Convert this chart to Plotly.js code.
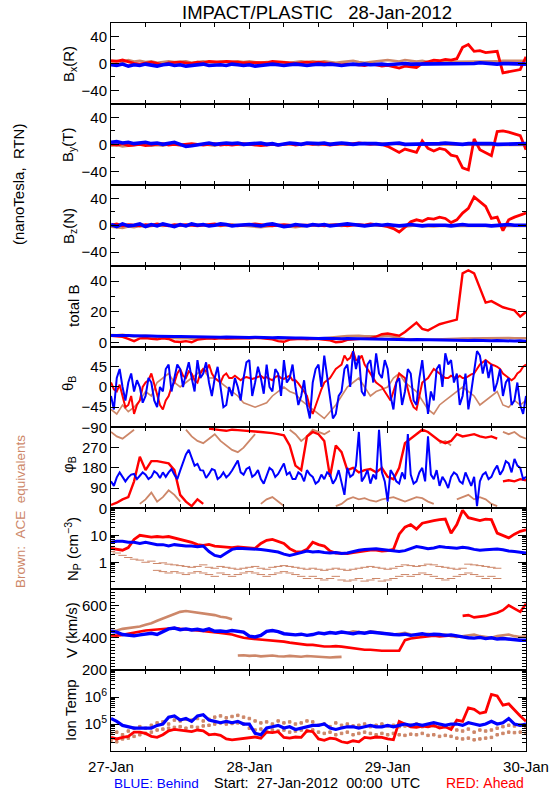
<!DOCTYPE html>
<html><head><meta charset="utf-8">
<script src="https://cdn.plot.ly/plotly-3.0.1.min.js"></script>
<style>body{margin:0;background:#fff}#chart{width:550px;height:800px}</style>
</head><body><div id="chart"></div>
<script>
// ---- data: hourly samples, 27-Jan-2012 00:00 .. 30-Jan-2012 00:00 ----
const hours = Array.from({length: 73}, (_, i) => i);

const bxBlue = [-2,-3,-1,-4,-2,-3,-1,-2,-4,-2,-1,-3, -2,-4,-3,-2,-1,-3,-2,-2,-3,-1,-2,-3, -2,-4,-3,-2,-1,-2,-3,-2,-1,-2,-3,-2, -1,-2,-1,-2,-3,-2,-1,-2,-1,-2,-1,-1, -2,-1,-1,0,-1,-1,0,-1,-1,0,0,-1, 0,-1,0,0,1,0,0,-1,0,0,-1,0, -1];
const bxRed = [4,3,5,2,0,-1,1,2,0,-2,1,2, 2,1,0,2,1,3,2,2,3,3,2,1, 1,2,2,1,3,2,2,1,0,1,2,1, 2,1,0,-1,-2,-1,-1,-2,-3,-1,-2,-4, -3,-5,-7,-4,-5,-6,0,3,5,4,6,5, 7,24,28,18,19,16,17,18,-14,-12,-11,-9, 10];
const bxBrown = [3,4,2,5,3,4,2,3,1,2,3,2, 2,3,1,2,3,2,1,3,2,2,3,2, 3,2,1,2,2,3,2,1,2,3,2,3, 2,3,2,1,2,3,4,2,1,2,3,4, 5,4,3,5,4,3,4,2,2,2,3,2, 3,3,3,3,3,3,3,3,4,4,4,4, 4];

const byBlue = [3,4,2,3,1,2,3,1,2,0,2,3, 0,-3,-2,-1,1,2,0,1,2,1,2,0, 1,2,2,0,1,-1,1,2,1,0,2,1, 1,2,0,1,2,1,0,1,1,2,1,0, 1,1,2,0,0,1,1,0,0,1,2,1, 1,0,1,1,2,1,1,0,0,1,1,1, 1];
const byRed = [0,-1,1,-2,-1,0,-2,-1,0,1,-1,0, -1,0,1,0,-1,0,1,-1,0,-1,0,1, 0,-1,-2,-1,0,-1,0,1,-1,0,1,0, 1,0,-1,0,1,0,1,2,1,0,1,0, -3,-8,-12,-7,-10,-12,5,-6,-10,-6,-8,-16, -18,-35,-38,8,-8,-12,-17,19,20,18,16,13, -8];
const byBrown = [-2,-1,-3,-2,-1,0,-1,-2,-1,-2,0,-1, -1,0,-2,-1,0,-1,-2,0,-1,0,-1,-1, 0,-1,0,1,0,-1,0,0,-1,0,1,0, -1,0,1,0,0,-1,0,1,2,1,0,1, 0,1,0,-1,0,0,-1,0,-1,-1,-1,-1, -1,-1,-1,-1,-1,-1,-1,-1,-1,-1,-1,-1, -1];

const bzBlue = [1,-2,2,-1,0,2,-2,1,-1,2,0,-2, 1,-1,2,0,1,-1,0,2,1,-1,0,1, 1,0,-1,1,2,0,-2,-1,1,0,-1,1, 0,1,-1,0,1,2,1,0,-1,0,1,0, 1,0,-1,0,1,0,-1,0,0,1,0,-1, 0,1,0,0,1,0,-1,0,0,1,0,0, 0];
const bzRed = [0,2,-1,1,0,-1,1,0,2,0,-1,1, 0,1,0,-1,0,1,2,0,1,0,-1,0, 1,2,1,0,-1,0,1,0,-1,0,0,1, 0,-1,0,1,0,-1,0,1,0,2,1,0, -2,-5,-10,-3,5,8,6,10,9,12,10,4, 8,18,25,42,35,28,10,12,-8,8,12,15, 18];
const bzBrown = [-2,-3,-4,-2,-3,-1,-2,-1,0,-1,0,-1, 0,-1,0,1,0,-1,0,-1,0,1,0,-1, -1,-2,-3,-2,-1,0,-1,-2,-3,-2,-1,0, -1,0,1,0,-1,0,1,0,-1,0,0,-1, -1,0,-1,-2,-1,0,-1,-2,-2,-1,-1,-2, -1,-1,-2,-2,-1,-1,-1,-1,-1,-1,-1,-1, -1];

const btBlue = [4.6,4.7,4.5,4.6,4.5,4.3,4.4,4.3,4.2,4.3,4.1,4.1, 4.0,3.9,4.0,3.8,3.9,3.7,3.8,3.6,3.7,3.5,3.6,3.5, 3.4,3.5,3.3,3.4,3.2,3.3,3.1,3.2,3.0,3.1,2.9,3.0, 2.8,2.9,2.7,2.8,2.6,2.7,2.6,2.5,2.6,2.4,2.5,2.3, 2.2,2.3,2.1,2.2,2.0,2.1,2.0,1.9,1.8,1.9,1.7,1.8, 1.6,1.7,1.5,1.6,1.4,1.5,1.3,1.4,1.2,1.3,1.1,1.2, 1.0];
const btRed = [4.5,4.3,3.8,2.5,1.0,2.8,3.0,2.6,2.2,2.8,2.4,0.8, 0.5,1.0,0.3,2.0,2.6,2.8,2.5,3.0,2.7,2.9,3.1,3.0, 2.9,3.2,3.0,2.7,2.2,1.0,0.6,2.0,2.4,2.6,2.2,2.5, 2.3,2.0,1.5,0.3,0.6,1.8,2.2,2.4,2.6,3.0,4.0,5.5, 6.0,5.0,4.5,7.0,10.0,13.0,9.0,8.0,10.0,12.0,13.0,14.0, 15.0,45.0,47.0,45.0,36.0,26.0,27.0,25.0,23.0,22.0,21.0,17.0, 20.0];
const btBrown = [5.0,4.8,5.2,4.5,4.0,4.3,4.6,4.2,3.8,3.5,3.2,3.0, 2.8,3.0,2.6,2.4,2.7,2.9,3.1,3.0,2.8,2.6,2.8,3.0, 3.1,3.2,3.0,2.9,2.8,3.0,2.7,2.5,2.6,2.8,2.7,2.6, 2.8,3.0,3.2,3.6,4.0,4.4,4.6,4.5,4.3,4.2,4.0,4.2, 4.4,4.0,3.2,2.5,2.2,2.0,1.9,2.0,2.2,2.4,2.5,2.6, 2.6,2.7,2.8,2.7,2.8,2.9,3.0,3.0,3.1,3.1,3.0,3.0, 3.0];

// theta / phi: hourly values plus readings at the half hours (h + 0.5)
const thBlue = [-20,20,0,10,-10,0,-20,10,-45,-10,50,20, 40,30,20,60,30,10,20,0,-40,-20,0,20, 60,10,20,50,-10,30,60,20,0,-20,-40,10, 50,70,-30,-60,-10,50,80,70,-20,60,75,20, 40,-50,20,-10,30,-40,60,-60,-30,50,75,60, 30,-20,-50,40,70,60,50,10,-20,20,-30,-40, -20];
const thBlueHalf = [-50,40,-30,30,15,-35,20,-30,0,40,-10,50, 0,55,-10,20,55,-20,45,-45,0,20,-30,55, -20,45,-15,0,40,-20,10,50,-40,15,-70,40, 0,20,-70,-20,40,0,40,-10,50,10,30,60, -20,10,-40,40,-30,20,0,-10,40,0,50,10, -40,30,-10,80,30,20,-10,40,10,-40,10,-60];
const thRed = [10,-10,-20,-40,-60,-30,10,30,-20,-50,-20,10, 40,20,30,10,40,50,20,10,30,20,20,20, 20,20,25,22,15,25,18,25,15,0,-20,-60, -20,10,20,40,50,60,80,60,50,30,10,0, -20,-10,30,20,-30,-50,10,20,40,30,20,25, 20,20,25,30,50,60,50,45,30,20,20,35, 50];
const thRedHalf = [-5,5,-45,-20,-40,0,15,5,-40,-30,0,30, 25,35,15,30,35,30,15,25,20,25,15,22, 18,23,20,18,22,20,22,15,8,-10,-45,-40, -5,15,30,45,70,65,60,70,40,20,5,-10, -30,10,25,-5,-45,-20,15,30,35,25,20,22, 25,20,28,40,55,55,48,40,25,15,30,45];
const thBrown = [-50,-60,-40,-55,-45,-30,-10,-20,10,20,30,10, 0,10,20,30,40,20,20,10,0,-10,-20,-35, -40,-45,-40,-35,-20,-10,0,-10,-15,-30,-40,-50, -60,-70,-55,-40,-20,0,10,20,0,-20,-10,-5, 0,20,30,10,0,-10,-30,-50,-60,-40,-30,-20, -10,0,-10,-20,-40,-30,-20,-10,-40,-45,-30,-40, -30];

const phBlue = [120,138,140,138,153,145,150,140,155,160,160,150, 168,240,228,198,168,153,170,140,138,168,213,150, 183,150,130,150,170,153,200,160,130,150,170,140, 120,130,150,130,110,180,150,340,140,110,130,160, 30,150,110,130,150,120,180,320,130,100,120,140, 150,110,130,140,120,160,140,190,170,200,220,180, 140];
const phBlueHalf = [100,160,120,150,130,160,130,165,135,140,175,130, 200,260,190,170,135,175,130,160,150,190,160,175, 140,170,110,180,140,180,150,130,160,120,150,110, 150,160,110,170,60,140,190,120,170,150,350,120, 170,120,160,330,110,160,120,150,170,140,90,160, 120,160,100,10,150,130,170,150,210,160,190,130];
const phRed = [15,25,40,50,120,230,170,210,210,205,200,170, 60,30,10,40,20,355,350,348,345,350,348,345, 345,342,340,338,335,330,325,280,190,170,320,340, 330,300,140,280,250,170,180,160,170,175,160,180, 140,130,180,290,310,330,350,340,320,300,290,300, 330,320,325,330,320,315,320,310,120,125,120,130, 125];
const phBrown = [340,320,310,330,350,20,40,70,30,50,80,60, 30,350,320,300,290,310,330,300,280,260,250,270, 300,330,20,40,50,30,10,350,330,300,320,350, 340,330,345,10,20,40,50,40,45,35,30,40, 45,50,40,30,40,50,45,30,20,290,300,280, 40,50,60,40,50,40,20,10,340,330,340,320, 310];

const npBlue = [5.5,6,6,5.5,5.5,5,5.5,5,4.5,4.5,4,4.5, 4.2,4,4,3.8,4,2.5,1.8,1.6,2.2,3,3.3,3.2, 3.3,3.2,3,2.8,2.6,2.4,2,1.8,2,2.3,2.6,2.4, 2.5,2.3,2.2,2.3,2.1,2.2,2.5,2.8,3,3.2,3.2,3, 2.8,2.6,2.5,2.7,3.3,3.8,3.5,3.2,3.4,3.8,3.6,3.4, 3.3,3.6,3.4,3,2.8,2.9,3,3.1,2.9,2.6,2.5,2.3, 2.2];
const npRed = [3.3,3,2.8,3.5,7,10,9,8.5,9,8.5,9,8, 7,6.5,5.5,4.5,4.2,4.6,4,3.8,3.6,3.5,3.7,3.6, 3.4,3.3,5,6.5,7,6,5,3.2,2.5,2.4,3,5.5, 4.5,4,2.6,2.2,2.2,2.1,2.3,2.5,2.7,2.8,2.8,2.6, 2.7,3,11,20,25,17,28,32,35,38,40,12, 25,85,45,40,35,40,38,12,10,8,11,14, 16];
const npBrownHi = [2.5,2.2,1.8,1.5,1.3,1.2,1.0,1.1,0.9,0.95,0.85,0.8, 0.75,0.7,0.65,0.7,0.8,0.65,0.6,0.7,0.65,0.6,0.55,0.6, 0.65,0.7,0.6,0.55,0.65,0.7,0.75,0.7,0.65,0.6,0.55,0.6, 0.55,0.5,0.55,0.6,0.55,0.5,0.55,0.6,0.65,0.7,0.65,0.6, 0.55,0.6,0.7,0.8,0.75,0.7,0.75,0.85,0.8,0.7,0.65,0.6, 0.55,0.6,0.85,0.8,0.75,0.7,0.65,0.6,null,null,null,null, null];
const npBrownLo = [null,null,null,null,null,null,null,null,0.5,0.45,0.4,0.45, 0.4,0.35,0.4,0.45,0.4,0.35,0.3,0.4,0.35,0.3,0.35,0.4, 0.45,0.4,0.35,0.3,0.35,0.4,0.45,0.4,0.35,0.3,0.25,0.3, 0.25,0.22,0.25,0.3,0.22,0.2,0.22,0.25,0.2,0.22,0.25,0.2, 0.22,0.25,0.3,0.35,0.3,0.35,0.4,0.35,0.3,0.25,0.22,0.25, 0.3,0.35,0.4,0.35,0.3,0.25,0.3,0.25,null,null,null,null, null];

const vBlue = [440,435,420,415,412,418,425,428,420,440,455,460, 450,455,448,452,445,455,440,442,438,445,440,435, 410,405,415,440,445,438,425,420,418,422,415,420, 430,425,432,428,435,430,425,432,428,435,430,428, 425,420,418,422,415,420,425,418,422,420,415,418, 410,405,400,398,402,395,400,392,395,390,388,385, 385];
const vRed = [415,413,418,425,432,438,445,448,452,455,458,460, 455,450,448,445,442,440,435,430,425,420,410,400, 395,392,390,388,385,380,376,370,365,360,356,356, 350,346,346,348,345,340,335,330,326,326,322,320, 320,318,320,385,395,400,405,410,412,408,410,415, 410,535,540,526,530,535,545,555,570,600,580,560, 610];
const vBrown = [440,445,455,460,465,470,480,490,505,520,530,545, 560,565,560,555,550,545,540,530,525,515,290,292, 288,290,285,287,290,286,284,288,285,283,287,285, 280,282,278,280,282,430,440,435,430,440,435,430, 425,420,425,430,420,415,420,425,420,415,420,410, 405,410,415,420,410,405,400,410,415,420,410,405, 410];

const tBlue = [1.6e5,1.26e5,8.9e4,7.9e4,7.1e4,7.1e4,7.1e4,7.1e4,8.9e4,1.0e5,1.8e5,2.0e5, 1.4e5,1.6e5,1.26e5,2.0e5,2.2e5,1.4e5,1.26e5,1.12e5,1.26e5,1.12e5,1.26e5,1.0e5, 1.0e5,4.5e4,4.0e4,7.1e4,7.9e4,8.9e4,7.1e4,7.9e4,6.3e4,7.1e4,7.9e4,8.9e4, 8.9e4,1.0e5,7.1e4,6.3e4,7.1e4,7.9e4,7.9e4,7.1e4,7.9e4,8.9e4,7.9e4,7.9e4, 8.9e4,7.9e4,8.9e4,1.0e5,8.9e4,1.0e5,8.9e4,1.0e5,1.12e5,1.0e5,8.9e4,1.0e5, 1.0e5,8.9e4,1.12e5,1.0e5,8.9e4,1.0e5,1.26e5,1.0e5,1.12e5,1.6e5,1.0e5,8.9e4, 1.0e5];
const tRed = [3.2e4,2.8e4,3.2e4,3.5e4,5.0e4,5.0e4,4.5e4,3.5e4,3.2e4,4.0e4,5.6e4,6.3e4, 6.0e4,5.6e4,5.2e4,6.0e4,5.6e4,4.0e4,4.2e4,3.8e4,2.8e4,2.6e4,2.8e4,3.0e4, 3.2e4,3.3e4,3.0e4,5.0e4,4.8e4,5.2e4,3.2e4,3.0e4,3.3e4,3.2e4,5.6e4,5.2e4, 2.8e4,2.5e4,3.0e4,2.8e4,2.2e4,2.0e4,2.4e4,2.2e4,3.2e4,3.0e4,3.3e4,3.2e4, 2.8e4,2.6e4,1.26e5,1.0e5,7.9e4,7.6e4,8.3e4,7.9e4,8.9e4,7.1e4,7.9e4,6.3e4, 1.4e5,1.26e5,4.0e5,3.5e5,2.5e5,2.8e5,1.26e6,1.1e6,5.0e5,5.6e5,3.2e5,2.0e5, 1.26e5];
const tBrownHi = [4.5e4,5e4,4e4,5.5e4,7e4,8e4,7e4,9e4,1.1e5,1.2e5,1e5,1.4e5, 1.3e5,1.5e5,1.4e5,1.6e5,1.3e5,1.5e5,1.8e5,2.0e5,1.7e5,1.9e5,2.1e5,1.8e5, 1.6e5,1.3e5,1.1e5,1.2e5,1.0e5,1.3e5,1.1e5,1.2e5,1.0e5,1.1e5,1.3e5,1.2e5, 9e4,1.0e5,8e4,1.1e5,9e4,1.0e5,8.5e4,9e4,1.0e5,8e4,9e4,1.0e5, 8.5e4,9e4,8e4,8.5e4,9e4,1.0e5,8e4,9e4,8.5e4,9e4,8e4,7.5e4, 6e4,5.5e4,6.5e4,5e4,6e4,5.5e4,6e4,7e4,8e4,9e4,8.5e4,9e4, 8e4];
const tBrownLo = [2.5e4,2.2e4,2.8e4,3e4,3.5e4,4e4,4.5e4,5e4,6e4,6.5e4,7e4,7.5e4, 8e4,7e4,8e4,7.5e4,8.5e4,9e4,1.0e5,1.1e5,1.0e5,1.05e5,1.1e5,1.0e5, 7e4,6e4,6.5e4,5.5e4,6e4,5.5e4,6e4,5e4,5.5e4,6e4,5.5e4,6e4, 5e4,4.5e4,5e4,4e4,4.5e4,5e4,4e4,4.5e4,5e4,4.5e4,4e4,4.5e4, 4e4,4.5e4,4e4,3.8e4,4.2e4,4e4,4.5e4,3.8e4,4e4,3.5e4,3.8e4,3.5e4, 3e4,2.8e4,3e4,2.6e4,2.8e4,3e4,3.2e4,4e4,4.5e4,5e4,4.8e4,5e4, 4.5e4];

const dayTicks = ['27-Jan', '28-Jan', '29-Jan', '30-Jan'];

// ---- helpers ----
const BLUE = '#0000ff', RED = '#ff0000', BROWN = 'rgb(205,135,105)';
function tstr(h) {
  const d = 27 + Math.floor(h / 24), hh = Math.floor(h % 24), mm = Math.round((h % 1) * 60);
  return '2012-01-' + d + ' ' + String(hh).padStart(2, '0') + ':' + String(mm).padStart(2, '0');
}
const X = hours.map(tstr);
// merge hourly and half-hour readings into one time-ordered series
function merged(hourly, half) {
  const xs = [], ys = [];
  for (let i = 0; i < hourly.length; i++) {
    xs.push(tstr(i)); ys.push(hourly[i]);
    if (i < half.length) { xs.push(tstr(i + 0.5)); ys.push(half[i]); }
  }
  return {x: xs, y: ys};
}
function breakJumps(d, thr) {  // split at angle wraps / data gaps so no line crosses the panel
  const xs = [], out = [];
  for (let i = 0; i < d.y.length; i++) {
    if (i > 0 && d.y[i] != null && d.y[i-1] != null && Math.abs(d.y[i] - d.y[i-1]) > thr) { xs.push(d.x[i]); out.push(null); }
    xs.push(d.x[i]); out.push(d.y[i]);
  }
  return {x: xs, y: out};
}

const traces = [];
function line(panel, ys, color, width, brk) {
  let d = Array.isArray(ys) ? {x: X, y: ys} : ys;
  if (brk) d = breakJumps(d, brk);
  traces.push({type: 'scatter', mode: 'lines', x: d.x, y: d.y, xaxis: 'x' + (panel + 1), yaxis: 'y' + (panel + 1),
    line: {color: color, width: width}, connectgaps: false, hoverinfo: 'skip'});
}
function dots(panel, ys, color, size, symbol) {
  traces.push({type: 'scatter', mode: 'markers', x: X, y: ys, xaxis: 'x' + (panel + 1), yaxis: 'y' + (panel + 1),
    marker: {color: color, size: size, symbol: symbol || 'square', line: {color: color, width: 1}}, hoverinfo: 'skip'});
}

// panel 0..2: B components
[[bxBrown, bxRed, bxBlue], [byBrown, byRed, byBlue], [bzBrown, bzRed, bzBlue]].forEach((s, p) => {
  line(p, s[0], BROWN, 2.6); line(p, s[1], RED, 2.8); line(p, s[2], BLUE, 3.6);
});
line(3, btBrown, BROWN, 2.4); line(3, btRed, RED, 2.4); line(3, btBlue, BLUE, 3);
line(4, thBrown, BROWN, 1.6); line(4, merged(thRed, thRedHalf), RED, 2); line(4, merged(thBlue, thBlueHalf), BLUE, 2);
line(5, phBrown, BROWN, 1.8, 180); line(5, phRed, RED, 2.4, 180); line(5, merged(phBlue, phBlueHalf), BLUE, 2);
dots(6, npBrownHi, BROWN, 6, 'line-ew'); dots(6, npBrownLo, BROWN, 6, 'line-ew');
line(6, npRed, RED, 2.8); line(6, npBlue, BLUE, 3);
line(7, vBrown, BROWN, 2.6, 100); line(7, vRed, RED, 2.6, 100); line(7, vBlue, BLUE, 3.4);
dots(8, tBrownHi, BROWN, 2.5); dots(8, tBrownLo, BROWN, 2.5);
line(8, tRed, RED, 2.8); line(8, tBlue, BLUE, 3.2);

// ---- layout ----
const FONT = 'Liberation Sans, Arial, sans-serif';
const L = 111, R = 24, T = 23, B = 49, W = 550, H = 800;
const PW = W - L - R, PH = H - T - B;
const px = X0 => (X0 - L) / PW, py = Y0 => (H - B - Y0) / PH;

const yCfg = [
  {range: [-60, 60], tickvals: [-40, 0, 40], minor: [-20, 20]},
  {range: [-60, 60], tickvals: [-40, 0, 40], minor: [-20, 20]},
  {range: [-60, 60], tickvals: [-40, 0, 40], minor: [-20, 20]},
  {range: [-2.5, 50], tickvals: [0, 20, 40], minor: [10, 30]},
  {range: [-90, 90], tickvals: [-90, -45, 0, 45], minor: []},
  {range: [0, 360], tickvals: [0, 90, 180, 270], minor: []},
  {type: 'log', range: [-1, 2], tickvals: [1, 10], ticktext: ['1', '10'],
   minor: [0.2,0.3,0.4,0.5,0.6,0.7,0.8,0.9,2,3,4,5,6,7,8,9,20,30,40,50,60,70,80,90]},
  {range: [200, 700], tickvals: [200, 400, 600],
   minor: [220,240,260,280,300,320,340,360,380,420,440,460,480,500,520,540,560,580,620,640,660,680]},
  {type: 'log', range: [4, 7], tickvals: [1e5, 1e6], ticktext: ['10<sup>5</sup>', '10<sup>6</sup>'],
   minor: [2e4,3e4,4e4,5e4,6e4,7e4,8e4,9e4,2e5,3e5,4e5,5e5,6e5,7e5,8e5,9e5,2e6,3e6,4e6,5e6,6e6,7e6,8e6,9e6]}
];

const layout = {
  width: W, height: H, margin: {l: L, r: R, t: T, b: B},
  paper_bgcolor: '#fff', plot_bgcolor: '#fff', showlegend: false,
  font: {family: FONT, size: 15, color: '#000'},
  annotations: [], shapes: []
};
for (let i = 0; i < 9; i++) {
  const n = i + 1, c = yCfg[i];
  layout['yaxis' + n] = {
    domain: [1 - (i + 1) / 9, 1 - i / 9], anchor: 'x' + n, type: c.type || 'linear', range: c.range,
    tickmode: 'array', tickvals: c.tickvals, ticktext: c.ticktext,
    ticks: 'inside', ticklen: 8, tickwidth: 1, tickcolor: '#000', mirror: 'ticks',
    showline: true, linecolor: '#000', linewidth: 1, showgrid: false, zeroline: false,
    tickfont: {family: FONT, size: 15, color: '#000'},
    minor: {tickmode: 'array', tickvals: c.minor, ticks: 'inside', ticklen: 4, tickcolor: '#000', showgrid: false},
    fixedrange: true
  };
  layout['xaxis' + n] = {
    anchor: 'y' + n, type: 'date', range: ['2012-01-27 00:00', '2012-01-30 00:00'],
    tickmode: 'array', tickvals: ['2012-01-27', '2012-01-28', '2012-01-29', '2012-01-30'], ticktext: dayTicks,
    ticks: 'inside', ticklen: 6, tickwidth: 1, tickcolor: '#000', mirror: 'ticks',
    showline: true, linecolor: '#000', linewidth: 1, showgrid: false, zeroline: false,
    showticklabels: i === 8, ticklabelstandoff: 2,
    tickfont: {family: FONT, size: 15, color: '#000'},
    minor: {tickmode: 'array', tickvals: ['2012-01-27 06:00','2012-01-27 12:00','2012-01-27 18:00','2012-01-28 06:00','2012-01-28 12:00','2012-01-28 18:00','2012-01-29 06:00','2012-01-29 12:00','2012-01-29 18:00'],
      ticks: 'inside', ticklen: 4, tickcolor: '#000', showgrid: false},
    fixedrange: true
  };
  if (i < 8) layout['xaxis' + n].matches = 'x9';
}

function ann(text, X0, Y0, opt) {
  layout.annotations.push(Object.assign({text: text, xref: 'paper', yref: 'paper', x: px(X0), y: py(Y0),
    showarrow: false, xanchor: 'center', yanchor: 'middle', font: {family: FONT, size: 15, color: '#000'}}, opt || {}));
}
const S = '\u00a0';
ann('IMPACT/PLASTIC' + S + S + S + '28-Jan-2012', 317, 12, {font: {family: FONT, size: 18.5, color: '#000'}});
const rot = {textangle: -90};
ann('B<sub>x</sub>(R)', 69, 64, rot);
ann('B<sub>y</sub>(T)', 69, 145, rot);
ann('B<sub>z</sub>(N)', 69, 226, rot);
ann('total' + S + 'B', 74, 306, rot);
ann('θ<sub>B</sub>', 68, 384, rot);
ann('φ<sub>B</sub>', 68, 465, rot);
ann('N<sub>P</sub>' + S + '(cm<sup>−3</sup>)', 72, 549, rot);
ann('V' + S + '(km/s)', 71, 630, rot);
ann('Ion' + S + 'Temp', 70, 710, rot);
ann('(nanoTesla,' + S + S + 'RTN)', 18, 185, rot);
ann('Brown:' + S + S + 'ACE' + S + S + 'equivalents', 20, 512, Object.assign({}, rot, {font: {family: FONT, size: 13.5, color: BROWN}}));
ann('BLUE:' + S + 'Behind', 112, 783, {xanchor: 'left', font: {family: FONT, size: 13.5, color: BLUE}});
ann('Start:' + S + S + '27-Jan-2012' + S + S + '00:00' + S + S + 'UTC', 212, 783, {xanchor: 'left', font: {family: FONT, size: 14.5, color: '#000'}});
ann('RED:' + S + 'Ahead', 526, 783, {xanchor: 'right', font: {family: FONT, size: 14, color: RED}});

Plotly.newPlot('chart', traces, layout, {staticPlot: true, displayModeBar: false});
</script></body></html>
